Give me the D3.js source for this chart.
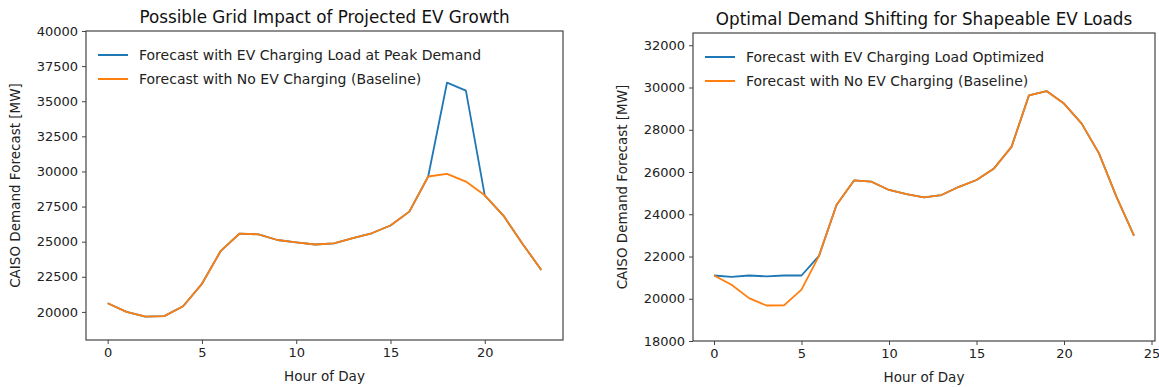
<!DOCTYPE html>
<html><head><meta charset="utf-8">
<script src="https://cdn.jsdelivr.net/npm/d3@7"></script>
<style>
body{margin:0;background:#fff;}
svg{display:block;font-family:"DejaVu Sans",sans-serif;}
.tick text{fill:#222;}
</style></head>
<body><svg id="c" width="1159" height="387"></svg>
<script>
// ---- data ----
const hoursLeft = d3.range(0, 24);
const leftBaseline = [20620,20000,19670,19700,20400,22000,24350,25580,25520,25120,24950,24800,24880,25250,25600,26150,27140,29640,29830,29280,28300,26840,24850,22990];
const leftPeak     = [20620,20000,19670,19700,20400,22000,24350,25580,25520,25120,24950,24800,24880,25250,25600,26150,27140,29640,36330,35760,28300,26840,24850,22990];
const hoursRight = d3.range(0, 25);
const rightBaseline  = [21100,20660,20030,19680,19690,20430,22030,24440,25600,25540,25150,24950,24800,24910,25300,25620,26170,27190,29630,29830,29240,28300,26880,24820,22990];
const rightOptimized = [21100,21040,21100,21060,21100,21100,22030,24440,25600,25540,25150,24950,24800,24910,25300,25620,26170,27190,29630,29830,29240,28300,26880,24820,22990];
const leftYTicks = [20000,22500,25000,27500,30000,32500,35000,37500,40000];
const rightYTicks = [18000,20000,22000,24000,26000,28000,30000,32000];
const leftXTicks = [0,5,10,15,20];
const rightXTicks = [0,5,10,15,20,25];
const leftTitle = "Possible Grid Impact of Projected EV Growth";
const rightTitle = "Optimal Demand Shifting for Shapeable EV Loads";
const leftLegend = ["Forecast with EV Charging Load at Peak Demand","Forecast with No EV Charging (Baseline)"];
const rightLegend = ["Forecast with EV Charging Load Optimized","Forecast with No EV Charging (Baseline)"];
const xLabel = "Hour of Day";
const yLabel = "CAISO Demand Forecast [MW]";

const BLUE = "#1f77b4", ORANGE = "#ff7f0e";
const svg = d3.select("#c");

function panel(o){
  const g = svg.append("g");
  const x = d3.scaleLinear().domain(o.xdom).range([o.l, o.r]);
  const y = d3.scaleLinear().domain(o.ydom).range([o.b, o.t]);
  const line = d3.line().x((d,i)=>x(o.hours[i])).y(d=>y(d));
  // lines
  g.append("path").datum(o.s1).attr("d", line).attr("fill","none").attr("stroke",BLUE).attr("stroke-width",1.8).attr("stroke-linejoin","round");
  g.append("path").datum(o.s2).attr("d", line).attr("fill","none").attr("stroke",ORANGE).attr("stroke-width",1.8).attr("stroke-linejoin","round");
  // frame
  g.append("rect").attr("x",o.l).attr("y",o.t).attr("width",o.r-o.l).attr("height",o.b-o.t)
    .attr("fill","none").attr("stroke","#444").attr("stroke-width",1.2);
  // axes
  const ax = g.append("g").attr("transform",`translate(0,${o.b})`)
    .call(d3.axisBottom(x).tickValues(o.xticks).tickSize(4).tickPadding(4).tickFormat(d3.format("d")));
  const ay = g.append("g").attr("transform",`translate(${o.l},0)`)
    .call(d3.axisLeft(y).tickValues(o.yticks).tickSize(4).tickPadding(4).tickFormat(d3.format("d")));
  [ax,ay].forEach(a=>{
    a.select(".domain").remove();
    a.selectAll("line").attr("stroke","#444");
    a.selectAll("text").attr("font-size",13).attr("font-family","DejaVu Sans").attr("fill","#222");
  });
  // title
  g.append("text").attr("x",(o.l+o.r)/2).attr("y",o.t-8).attr("text-anchor","middle")
    .attr("font-size",16.8).attr("fill","#111").text(o.title);
  // x label
  g.append("text").attr("x",(o.l+o.r)/2).attr("y",o.b+41).attr("text-anchor","middle")
    .attr("font-size",13.5).attr("fill","#222").text(xLabel);
  // y label
  g.append("text").attr("transform",`translate(${o.yl},${(o.t+o.b)/2}) rotate(-90)`).attr("text-anchor","middle")
    .attr("font-size",13.5).attr("fill","#222").text(yLabel);
  // legend
  const cols=[BLUE,ORANGE];
  o.legend.forEach((t,i)=>{
    const yy = o.t + 24 + i*24;
    g.append("line").attr("x1",o.l+12).attr("x2",o.l+42).attr("y1",yy).attr("y2",yy).attr("stroke",cols[i]).attr("stroke-width",2);
    g.append("text").attr("x",o.l+53).attr("y",yy+5).attr("font-size",14).attr("fill","#222").text(t);
  });
}

panel({l:86,r:563,t:31,b:340,xdom:[-1.15,24.15],ydom:[18000,40000],hours:hoursLeft,s1:leftPeak,s2:leftBaseline,
  xticks:leftXTicks,yticks:leftYTicks,title:leftTitle,legend:leftLegend,yl:20});
panel({l:693,r:1155,t:33,b:341,xdom:[-1.2,25.2],ydom:[18000,32580],hours:hoursRight,s1:rightOptimized,s2:rightBaseline,
  xticks:rightXTicks,yticks:rightYTicks,title:rightTitle,legend:rightLegend,yl:627});
</script></body></html>
